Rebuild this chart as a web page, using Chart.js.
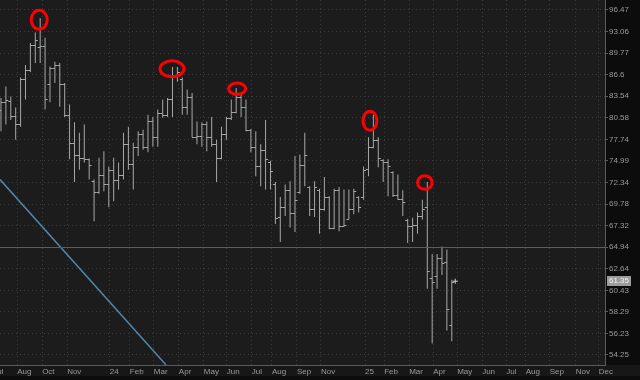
<!DOCTYPE html>
<html>
<head>
<meta charset="utf-8">
<script src="https://cdn.jsdelivr.net/npm/chart.js@4.4.1/dist/chart.umd.min.js"></script>
<style>
  html, body { margin: 0; padding: 0; background: #0b0b0b; }
  #wrap { width: 640px; height: 380px; }
</style>
</head>
<body>
<div id="wrap"><canvas id="myChart" width="640" height="380"></canvas></div>
<script>
// weekly OHLC bars, week 0 = first visible week (early Jul 2023)
const opens = [81.7, 82.8, 82.9, 80.8, 79.7, 86.0, 87.3, 91.0, 90.7, 90.9,
  85.3, 87.6, 88.0, 85.2, 81.0, 77.3, 75.8, 75.4, 75.2, 72.5,
  71.2, 73.3, 72.1, 73.9, 72.7, 73.3, 77.1, 74.6, 76.7, 78.4,
  76.7, 80.1, 78.0, 81.3, 80.9, 83.1, 86.6, 86.0, 82.0, 83.5,
  78.1, 78.2, 79.7, 78.0, 77.1, 75.4, 78.4, 80.6, 81.4, 83.5,
  82.1, 79.0, 76.7, 74.3, 76.4, 74.8, 72.1, 68.3, 69.4, 71.5,
  68.8, 71.2, 74.5, 71.8, 69.2, 71.5, 69.2, 70.6, 67.1, 71.5,
  67.3, 68.1, 69.2, 70.6, 70.6, 74.0, 76.7, 77.7, 75.1, 74.8,
  73.6, 70.9, 70.4, 68.0, 67.3, 67.4, 68.4, 69.5, 61.7, 61.9,
  63.8, 63.4, 57.0];
const highs = [83.3, 84.9, 83.5, 82.0, 86.2, 88.0, 91.3, 92.9, 95.2, 92.1,
  87.8, 88.5, 88.3, 85.4, 82.4, 80.0, 78.6, 79.7, 75.3, 72.7,
  75.4, 76.2, 74.3, 75.4, 74.8, 78.6, 79.4, 77.3, 78.8, 79.0,
  81.0, 80.7, 81.7, 83.1, 83.3, 87.7, 87.7, 86.2, 84.5, 84.0,
  80.1, 80.0, 80.1, 80.7, 77.7, 79.4, 80.7, 83.1, 84.7, 83.8,
  83.1, 79.1, 78.8, 77.1, 80.3, 75.0, 72.4, 70.6, 72.1, 72.5,
  75.6, 75.8, 78.6, 71.9, 72.5, 71.6, 73.0, 70.7, 71.6, 71.8,
  71.5, 71.5, 71.6, 70.7, 74.3, 78.0, 81.0, 78.0, 75.2, 75.2,
  73.7, 73.3, 71.4, 68.1, 68.2, 68.8, 70.3, 72.4, 64.2, 64.2,
  65.0, 64.7, 61.5];
const lows = [78.8, 79.7, 80.3, 77.7, 79.4, 83.1, 87.0, 88.3, 88.3, 81.7,
  82.7, 85.4, 82.1, 80.7, 75.2, 72.4, 73.9, 74.8, 72.7, 67.8,
  71.0, 71.3, 69.4, 70.1, 71.5, 72.7, 73.9, 71.5, 75.6, 76.4,
  76.1, 76.8, 76.8, 80.6, 80.7, 80.7, 85.6, 81.0, 81.0, 78.0,
  77.1, 76.8, 76.2, 76.8, 72.4, 75.2, 77.7, 80.3, 81.2, 80.7,
  78.8, 76.1, 73.1, 71.9, 71.5, 71.5, 67.5, 65.5, 68.4, 67.1,
  66.6, 71.0, 71.9, 68.4, 68.3, 66.4, 69.0, 66.9, 66.9, 66.7,
  67.2, 68.0, 68.6, 68.8, 70.3, 73.1, 76.6, 74.2, 72.4, 70.7,
  70.6, 70.3, 68.4, 65.4, 65.5, 66.4, 68.0, 60.6, 55.3, 60.6,
  62.0, 56.5, 55.5];
const closes = [82.8, 83.0, 80.8, 79.7, 86.0, 87.3, 91.0, 91.8, 90.9, 83.1,
  87.6, 88.0, 85.2, 81.0, 77.3, 75.8, 75.4, 75.2, 74.5, 71.2,
  73.3, 72.1, 73.9, 72.7, 73.3, 77.1, 74.6, 76.7, 78.4, 76.7,
  80.1, 78.0, 81.3, 80.9, 83.1, 86.6, 87.0, 82.0, 83.5, 78.1,
  78.2, 79.7, 78.0, 77.1, 75.4, 78.4, 80.6, 81.4, 83.5, 82.1,
  79.0, 76.7, 74.3, 76.4, 75.2, 73.7, 68.2, 69.4, 71.5, 68.8,
  70.3, 74.5, 75.8, 69.2, 71.8, 69.2, 70.6, 67.1, 71.5, 67.3,
  67.4, 69.2, 71.3, 69.5, 73.9, 76.7, 77.7, 75.4, 74.8, 74.3,
  70.9, 70.4, 70.0, 67.3, 67.4, 68.4, 69.2, 62.4, 61.3, 63.8,
  63.3, 58.6, 61.3];

const priceTicks = [96.47, 93.06, 89.77, 86.6, 83.54, 80.58, 77.74, 74.99, 72.34,
  69.78, 67.32, 64.94, 62.64, 60.43, 58.29, 56.23, 54.25];
const monthWeeks = [-1.6, 3.3, 8.4, 13.5, 22.2, 26.3, 31.2, 36.3, 41.4, 46.1, 51.2, 55.3,
  60.4, 65.3, 74.3, 78.2, 83.3, 88.2, 93.1, 98.2, 103.1, 107.1, 112.0, 117.3, 122.0];
const monthLabels = ['Jul', 'Aug', 'Oct', 'Nov', '24', 'Feb', 'Mar', 'Apr', 'May', 'Jun', 'Jul', 'Aug',
  'Sep', 'Nov', '25', 'Feb', 'Mar', 'Apr', 'May', 'Jun', 'Jul', 'Aug', 'Sep', 'Nov', 'Dec'];

const lastPrice = 61.35;
const lastWeek = 92.7;
const levelPrice = 64.94;
const trendWeeks = [-0.2, 33.7];
const trendPrices = [72.7, 53.35];
// circled swing highs
const peakWeeks = [7.8, 34.9, 48.2, 75.3, 86.5];
const peakPrices = [94.9, 87.45, 84.6, 80.2, 72.34];

const weeks = opens.map((o, i) => i);
const barColor = '#a8a8a8';
const labelColor = '#9a9a9a';
const gridColor = '#3c3c3c';
const fontFam = "'Liberation Sans', Arial, sans-serif";

const backdrop = {
  id: 'backdrop',
  beforeDraw(chart) {
    const {ctx, chartArea: a, width, height} = chart;
    ctx.save();
    ctx.fillStyle = '#0c0c0c';
    ctx.fillRect(0, 0, width, height);
    ctx.fillStyle = '#1c1c1c';
    ctx.fillRect(0, 0, a.right, a.bottom);
    ctx.fillStyle = '#171717';
    ctx.fillRect(0, a.bottom, width, 11);
    ctx.restore();
  }
};

// open / close ticks of each bar
const ohlcTicks = {
  id: 'ohlcTicks',
  afterDatasetsDraw(chart) {
    const {ctx, scales: {x, y}, chartArea: a} = chart;
    ctx.save();
    ctx.beginPath();
    ctx.rect(a.left, a.top, a.width, a.height);
    ctx.clip();
    ctx.strokeStyle = barColor;
    ctx.lineWidth = 1;
    ctx.beginPath();
    weeks.forEach((w, i) => {
      const px = x.getPixelForValue(w);
      const yo = Math.round(y.getPixelForValue(opens[i])) + 0.5;
      const yc = Math.round(y.getPixelForValue(closes[i])) + 0.5;
      ctx.moveTo(px - 2.5, yo); ctx.lineTo(px, yo);
      ctx.moveTo(px, yc); ctx.lineTo(px + 2.5, yc);
    });
    ctx.stroke();
    ctx.restore();
  }
};

// level line, circled peaks, last price tag
const marks = {
  id: 'marks',
  afterDraw(chart) {
    const {ctx, scales: {x, y}, chartArea: a} = chart;
    ctx.save();
    const ly = Math.round(y.getPixelForValue(levelPrice)) + 0.5;
    ctx.strokeStyle = '#a04040';
    ctx.lineWidth = 1;
    ctx.beginPath();
    ctx.moveTo(a.left, ly); ctx.lineTo(a.right, ly);
    ctx.stroke();

    const radii = [[8, 9.5], [12, 8], [8.5, 5.7], [7, 9.5], [7.3, 6.8]];
    ctx.strokeStyle = '#ff0000';
    ctx.lineWidth = 3;
    peakWeeks.forEach((w, i) => {
      ctx.beginPath();
      ctx.ellipse(x.getPixelForValue(w), y.getPixelForValue(peakPrices[i]),
        radii[i][0], radii[i][1], 0, 0, Math.PI * 2);
      ctx.stroke();
    });

    const py = y.getPixelForValue(lastPrice);
    ctx.fillStyle = '#9c9c9c';
    ctx.fillRect(a.right + 2, Math.round(py) - 5, 24, 10);
    ctx.fillStyle = '#f2f2f2';
    ctx.font = '8px ' + fontFam;
    ctx.textBaseline = 'middle';
    ctx.textAlign = 'left';
    ctx.fillText(lastPrice.toFixed(2), a.right + 4, py);
    ctx.restore();
  }
};

new Chart(document.getElementById('myChart'), {
  type: 'bar',
  data: {
    datasets: [
      {
        data: weeks.map((w, i) => ({x: w, y: [lows[i], highs[i]]})),
        backgroundColor: barColor,
        barThickness: 1,
        inflateAmount: 0,
        order: 2
      },
      {
        type: 'line',
        data: trendWeeks.map((w, i) => ({x: w, y: trendPrices[i]})),
        borderColor: '#5286aa',
        borderWidth: 1.5,
        pointRadius: 0,
        order: 1
      },
      {
        type: 'line',
        data: [{x: lastWeek, y: lastPrice}],
        showLine: false,
        pointStyle: 'cross',
        pointRadius: 2.5,
        borderColor: '#d0d0d0',
        borderWidth: 1,
        order: 0
      }
    ]
  },
  options: {
    responsive: false,
    animation: false,
    devicePixelRatio: 1,
    layout: {padding: 0, autoPadding: false},
    plugins: {legend: {display: false}, tooltip: {enabled: false}},
    scales: {
      x: {
        type: 'linear',
        offset: false,
        min: -0.2,
        max: 123.27,
        afterBuildTicks: (s) => { s.ticks = monthWeeks.map(v => ({value: v})); },
        afterFit: (s) => { s.height = 15; s.paddingLeft = 0; s.paddingRight = 0; },
        grid: {color: gridColor, drawTicks: false, offset: false},
        border: {display: true, color: '#5a5a5a', dash: [1, 3]},
        ticks: {
          autoSkip: false,
          maxRotation: 0,
          align: 'start',
          padding: 2,
          color: labelColor,
          font: {family: fontFam, size: 8},
          callback: (v, i) => monthLabels[i]
        }
      },
      y: {
        type: 'logarithmic',
        position: 'right',
        min: 53.35,
        max: 98.09,
        afterBuildTicks: (s) => { s.ticks = priceTicks.map(v => ({value: v})); },
        afterFit: (s) => { s.width = 35; s.paddingTop = 0; s.paddingBottom = 0; },
        grid: {color: gridColor, tickLength: 3, tickColor: '#5a5a5a'},
        border: {display: true, color: '#5a5a5a', dash: [1, 3]},
        ticks: {
          padding: 1,
          color: labelColor,
          font: {family: fontFam, size: 8},
          callback: (v, i) => String(priceTicks[i])
        }
      }
    }
  },
  plugins: [backdrop, ohlcTicks, marks]
});
</script>
</body>
</html>
